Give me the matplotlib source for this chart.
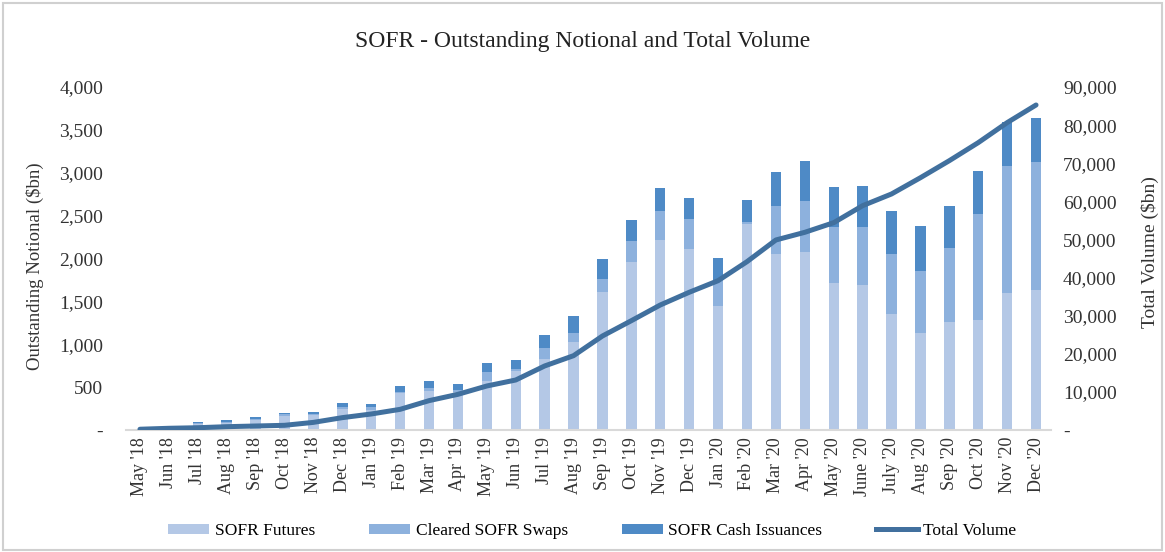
import matplotlib
matplotlib.use("Agg")
import matplotlib.pyplot as plt
from matplotlib.ticker import FuncFormatter
from matplotlib.patches import Rectangle, Patch
from matplotlib.lines import Line2D
import numpy as np

months = ["May '18", "Jun '18", "Jul '18", "Aug '18", "Sep '18", "Oct '18", "Nov '18", "Dec '18",
          "Jan '19", "Feb '19", "Mar '19", "Apr '19", "May '19", "Jun '19", "Jul '19", "Aug '19",
          "Sep '19", "Oct '19", "Nov '19", "Dec '19", "Jan '20", "Feb '20", "Mar '20", "Apr '20",
          "May '20", "June '20", "July '20", "Aug '20", "Sep '20", "Oct '20", "Nov '20", "Dec '20"]

sofr_futures = [3, 10, 70, 85, 120, 165, 175, 250, 230, 435, 458, 447, 571, 690, 824, 1023,
                1613, 1960, 2216, 2111, 1450, 2400, 2052, 2076, 1711, 1695, 1353, 1131, 1259, 1283, 1601, 1629]
cleared_swaps = [0, 0, 8, 8, 10, 18, 15, 22, 35, 12, 36, 19, 109, 20, 129, 107,
                 152, 246, 342, 349, 300, 30, 560, 594, 660, 676, 699, 727, 863, 1236, 1478, 1496]
cash_issuances = [5, 12, 19, 24, 18, 19, 24, 39, 35, 70, 77, 70, 97, 106, 155, 195,
                  229, 243, 260, 250, 260, 252, 400, 467, 459, 474, 506, 521, 490, 505, 517, 513]
total_volume = [200, 450, 600, 870, 1050, 1230, 2000, 3240, 4200, 5420, 7700, 9360, 11550, 13120, 16800, 19500,
                24666, 28685, 32800, 36130, 39180, 44170, 49860, 51870, 54400, 58860, 61930, 66200, 70670, 75400, 80650, 85280]

c_fut = "#B4C8E6"
c_swp = "#8DB1DD"
c_cash = "#4E8AC6"
c_line = "#41709E"
c_text = "#333333"

plt.rcParams['font.family'] = ['Liberation Serif', 'DejaVu Serif']

W, H = 1165, 552
fig = plt.figure(figsize=(W / 100, H / 100), dpi=100)
fig.patches.append(Rectangle((0.003, 0.003), 0.994, 0.991, transform=fig.transFigure,
                             fill=False, edgecolor="#D0D0D0", linewidth=1.5))

ax = fig.add_axes([125.5 / W, 1 - 430 / H, 925 / W, 343 / H])
x = np.arange(len(months))
fut = np.array(sofr_futures)
swp = np.array(cleared_swaps)
csh = np.array(cash_issuances)
w = 0.36
ax.bar(x, fut, width=w, color=c_fut, zorder=2)
ax.bar(x, swp, width=w, bottom=fut, color=c_swp, zorder=2)
ax.bar(x, csh, width=w, bottom=fut + swp, color=c_cash, zorder=2)

fmt = FuncFormatter(lambda v, p: "-" if v == 0 else f"{int(v):,}")
ax.set_xlim(-0.5, len(months) - 0.5)
ax.set_ylim(0, 4000)
ax.set_yticks(np.arange(0, 4001, 500))
ax.yaxis.set_major_formatter(fmt)
ax.set_xticks(x)
ax.set_xticklabels(months, rotation=90, fontsize=13)
ax.tick_params(axis='both', length=0, colors=c_text)
ax.tick_params(axis='y', labelsize=14, pad=16)
ax.tick_params(axis='x', pad=5)
for s in ["top", "left", "right"]:
    ax.spines[s].set_visible(False)
ax.spines["bottom"].set_color("#D9D9D9")
ax.spines["bottom"].set_linewidth(1.5)

ax2 = ax.twinx()
ax2.plot(x, total_volume, color=c_line, linewidth=3.6, zorder=3, solid_capstyle='round')
ax2.set_ylim(0, 90000)
ax2.set_yticks(np.arange(0, 90001, 10000))
ax2.yaxis.set_major_formatter(fmt)
ax2.tick_params(axis='y', length=0, labelsize=14, colors=c_text, pad=9)
for s in ["top", "left", "right", "bottom"]:
    ax2.spines[s].set_visible(False)

fig.text(35 / W, 1 - 266 / H, "Outstanding Notional ($bn)", rotation=90,
         ha="center", va="center", fontsize=13.5, color=c_text)
fig.text(1150 / W, 1 - 252 / H, "Total Volume ($bn)", rotation=90,
         ha="center", va="center", fontsize=14, color=c_text)

fig.text(0.5, 1 - 42 / H, "SOFR - Outstanding Notional and Total Volume",
         ha="center", va="center", fontsize=17, color="#222222")

handles = [Patch(facecolor=c_fut, edgecolor='none'),
           Patch(facecolor=c_swp, edgecolor='none'),
           Patch(facecolor=c_cash, edgecolor='none'),
           Line2D([0], [0], color=c_line, linewidth=3.6)]
labels = ["SOFR Futures", "Cleared SOFR Swaps", "SOFR Cash Issuances", "Total Volume"]
fig.legend(handles, labels, loc="center", bbox_to_anchor=(592 / W, 1 - 531 / H), ncol=4,
           frameon=False, fontsize=12.5, handlelength=2.4, handleheight=0.55,
           columnspacing=3.1, handletextpad=0.3)

fig.savefig("out.png", dpi=100, facecolor="white")
